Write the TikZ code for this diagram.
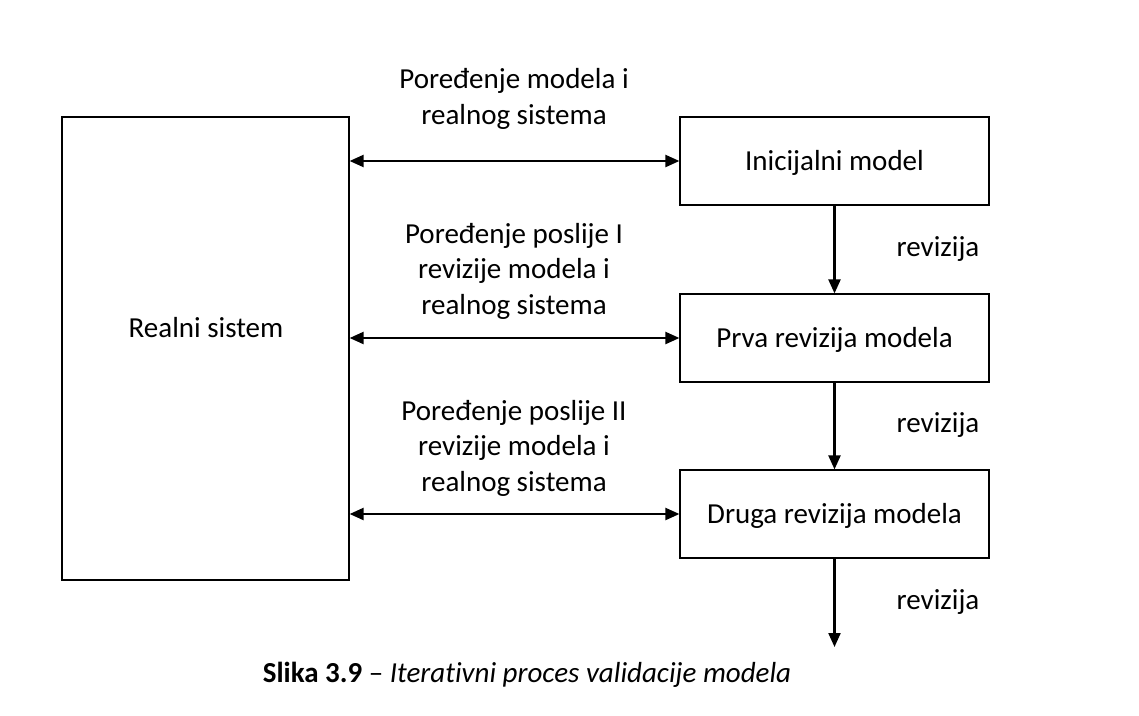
\documentclass[tikz,border=0pt]{standalone}
\usepackage{fontspec}
\setmainfont[Ligatures=NoCommon]{Carlito}
\usetikzlibrary{arrows.meta}
\begin{document}
\begin{tikzpicture}[x=1pt,y=-1pt,
  box/.style={draw,line width=1.2pt,inner sep=0pt},
  lbl/.style={font=\fontsize{29}{35.5}\selectfont,align=center,inner sep=0pt},
  boxtext/.style={text height=22pt,text depth=3pt},
  conn/.style={line width=2.2pt,-{Triangle[length=14pt,width=12pt]}},
  dconn/.style={line width=2.2pt,{Triangle[length=14pt,width=12pt]}-{Triangle[length=14pt,width=12pt]}}]
\useasboundingbox (0,0) rectangle (1139,715);
\node[box,minimum width=287pt,minimum height=463pt] (rs) at (205.5,348.5) {};
\node[lbl] (rst) at (206,328) {Realni sistem};
\node[box,minimum width=309pt,minimum height=88pt,lbl,boxtext] (m0) at (834.5,161) {Inicijalni model};
\node[box,minimum width=309pt,minimum height=88pt,lbl,boxtext] (m1) at (834.5,338) {Prva revizija modela};
\node[box,minimum width=309pt,minimum height=88pt,lbl,boxtext] (m2) at (834.5,514) {Druga revizija modela};
\coordinate (end) at (834.5,647);
\draw[dconn] (rs.east |- m0.west) -- (m0.west);
\draw[dconn] (rs.east |- m1.west) -- (m1.west);
\draw[dconn] (rs.east |- m2.west) -- (m2.west);
\draw[conn] (m0.south) -- (m1.north);
\draw[conn] (m1.south) -- (m2.north);
\draw[conn] (m2.south) -- (end);
\node[lbl] (r1) at (938,249) {revizija};
\node[lbl] (r2) at (938,425) {revizija};
\node[lbl] (r3) at (938,602) {revizija};
\node[lbl] (c1) at (514,99) {Poređenje modela i\\realnog sistema};
\node[lbl] (c2) at (514,271) {Poređenje poslije I\\revizije modela i\\realnog sistema};
\node[lbl] (c3) at (514,448) {Poređenje poslije II\\revizije modela i\\realnog sistema};
\node[lbl] (cap) at (527,675) {\textbf{Slika 3.9} -- \textit{Iterativni proces validacije modela}};
\end{tikzpicture}
\end{document}
